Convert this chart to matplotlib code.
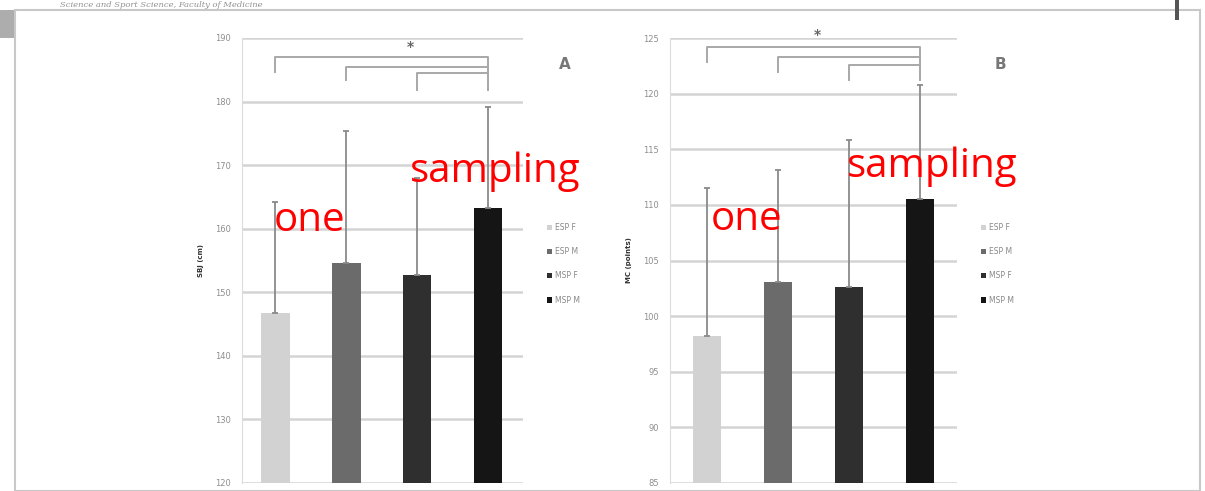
import matplotlib.pyplot as plt
from matplotlib.patches import Rectangle

# groups / legend labels
groups = ['ESP F', 'ESP M', 'MSP F', 'MSP M']
bar_colors = ['#d2d2d2', '#6b6b6b', '#2f2f2f', '#151515']

# panel A: SBJ (cm)
a_mean = [146.7, 154.6, 152.7, 163.3]
a_sd = [17.5, 20.8, 15.3, 15.8]
a_ticks = [120, 130, 140, 150, 160, 170, 180, 190]

# panel B: MC (points)
b_mean = [98.2, 103.1, 102.6, 110.5]
b_sd = [13.3, 10.0, 13.2, 10.3]
b_ticks = [85, 90, 95, 100, 105, 110, 115, 120, 125]

W, H = 1205, 491
fig = plt.figure(figsize=(W / 100, H / 100), dpi=100)
fig.patch.set_facecolor('white')

# page / card look of the photographed document
fig.add_artist(Rectangle((15 / W, 0), 1185 / W, 481 / H, transform=fig.transFigure,
                         fill=False, edgecolor='#c8c8c8', lw=1.5))
fig.add_artist(Rectangle((0, 1 - 38 / H), 14 / W, 28 / H, transform=fig.transFigure,
                         facecolor='#8a8a8a', edgecolor='none', alpha=0.7))
fig.add_artist(Rectangle((1175 / W, 0.96), 4 / W, 0.04, transform=fig.transFigure,
                         facecolor='#555555', edgecolor='none'))
fig.text(60 / W, 1 - 1 / H, 'Science and Sport Science, Faculty of Medicine', fontsize=6,
         style='italic', family='DejaVu Serif', color='#777777', va='top', alpha=0.8)


def draw_panel(rect, mean, sd, ticks, ylabel, letter, xlim, brackets, star):
    ax = fig.add_axes(rect)
    x = range(len(mean))
    ax.bar(x, mean, width=0.4, color=bar_colors, label=groups, zorder=3)
    ax.errorbar(x, mean, yerr=[[0] * len(sd), sd], fmt='none', ecolor='#8a8a8a',
                elinewidth=1.3, capsize=2, capthick=1.3, zorder=4)
    ax.set_ylim(ticks[0], ticks[-1])
    ax.set_xlim(*xlim)
    ax.set_yticks(ticks)
    ax.set_yticklabels([str(t) for t in ticks], fontsize=6, color='#8e8e8e')
    ax.tick_params(axis='y', length=0, pad=8)
    ax.set_xticks([])
    ax.yaxis.grid(True, color='#d4d4d4', lw=1.8, zorder=0)
    for s in ['top', 'right', 'bottom']:
        ax.spines[s].set_visible(False)
    ax.spines['left'].set_color('#dcdcdc')
    ax.set_ylabel(ylabel, fontsize=5, color='#333333', fontweight='bold', labelpad=8)
    # significance brackets
    for x0, y_top, y_leg in brackets:
        ax.plot([x0, x0, 3, 3], [y_leg, y_top, y_top, brackets[-1][2]], color='#a8a8a8',
                lw=1.4, clip_on=False, zorder=5)
    ax.text(star[0], star[1], '*', fontsize=10, color='#666666', ha='center', va='center',
            clip_on=False, fontweight='bold')
    ax.text(1.15, 0.94, letter, transform=ax.transAxes, fontsize=11, color='#777777',
            fontweight='bold', ha='center', va='center')
    ax.legend(loc='upper left', bbox_to_anchor=(1.06, 0.6), frameon=False, fontsize=5.5,
              handlelength=0.7, handleheight=0.7, handletextpad=0.4, labelspacing=2.0,
              labelcolor='#888888')
    return ax


axA = draw_panel([242 / W, 8 / H, 281 / W, 445 / H], a_mean, a_sd, a_ticks, 'SBJ (cm)', 'A',
                 (-0.47, 3.49), [(0, 187.0, 184.6), (1, 185.4, 183.4), (2, 184.5, 181.8)],
                 (1.9, 188.6))
axB = draw_panel([670 / W, 8 / H, 287 / W, 445 / H], b_mean, b_sd, b_ticks, 'MC (points)', 'B',
                 (-0.52, 3.52), [(0, 124.2, 122.8), (1, 123.3, 121.9), (2, 122.6, 121.2)],
                 (1.55, 125.3))

# red overlay words (pixel positions of their baselines)
overlay = [('one', 274, 231), ('sampling', 410, 182), ('one', 711, 230), ('sampling', 847, 177)]
for word, px, py in overlay:
    fig.text(px / W, 1 - py / H, word, fontsize=29, color='red', family='Open Sans',
             va='baseline', ha='left', zorder=10)

fig.savefig('out.png', dpi=100)
